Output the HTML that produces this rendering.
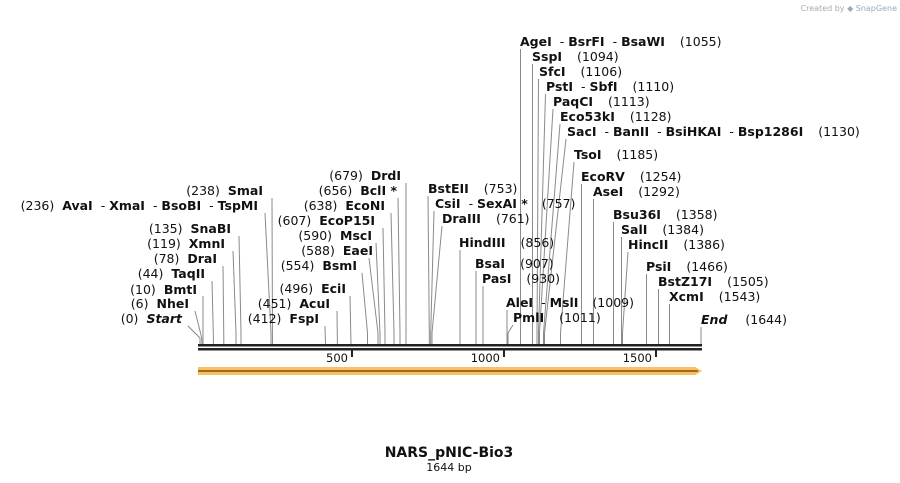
<!DOCTYPE html>
<html><head><meta charset="utf-8"><style>
html,body{margin:0;padding:0;background:#fff;width:900px;height:483px;overflow:hidden}
svg{display:block}
text{font-family:"DejaVu Sans","Liberation Sans",sans-serif;font-size:12.5px;fill:#111}
.b{font-weight:bold}
.l{fill:none;stroke:#8a8a8a;stroke-width:1}
</style></head><body>
<svg width="900" height="483" viewBox="0 0 900 483">
<text x="897" y="11" text-anchor="end" style="font-size:8px;fill:#aaa">Created by <tspan style="fill:#9ab">◆ SnapGene</tspan></text>

<polyline class="l" points="188,326 200,338 200,345"/>
<polyline class="l" points="195,311 201.8,338 201.8,345"/>
<polyline class="l" points="203,296 203,345"/>
<polyline class="l" points="212,281 213.4,338 213.4,345"/>
<polyline class="l" points="223,266 223.8,338 223.8,345"/>
<polyline class="l" points="233,251 236,333 236,345"/>
<polyline class="l" points="239,236 241,333 241,345"/>
<polyline class="l" points="265,213 271,333 271,345"/>
<polyline class="l" points="272,198 272.5,345"/>
<polyline class="l" points="325,326 325.5,345"/>
<polyline class="l" points="337,311 337.4,345"/>
<polyline class="l" points="350,296 351,345"/>
<polyline class="l" points="362,273 367.5,333 367.5,345"/>
<polyline class="l" points="369,258 378,333 378,345"/>
<polyline class="l" points="376,243 380,333 380,345"/>
<polyline class="l" points="383,228 385,333 385,345"/>
<polyline class="l" points="391,213 394,333 394,345"/>
<polyline class="l" points="398,198 400,333 400,345"/>
<polyline class="l" points="406,183 406,345"/>
<polyline class="l" points="428,196 429.4,345"/>
<polyline class="l" points="434,211 430.7,333 430.7,345"/>
<polyline class="l" points="442,226 432,333 432,345"/>
<polyline class="l" points="460,250 460,345"/>
<polyline class="l" points="476,271 476,345"/>
<polyline class="l" points="483,286 483,345"/>
<polyline class="l" points="507,310 507,345"/>
<polyline class="l" points="513,325 508,333 508,345"/>
<polyline class="l" points="520.5,49 520.5,345"/>
<polyline class="l" points="532.5,64 532.5,345"/>
<polyline class="l" points="538.5,79 537,333 537,345"/>
<polyline class="l" points="545.5,94 538.5,333 538.5,345"/>
<polyline class="l" points="553,109 539.5,333 539.5,345"/>
<polyline class="l" points="560,124 543.5,333 543.5,345"/>
<polyline class="l" points="566,139 544.5,333 544.5,345"/>
<polyline class="l" points="574,162 560.5,333 560.5,345"/>
<polyline class="l" points="581.5,184 581.5,345"/>
<polyline class="l" points="593.5,199 593.5,345"/>
<polyline class="l" points="613.5,222 613.5,345"/>
<polyline class="l" points="621.5,237 621.5,345"/>
<polyline class="l" points="628,252 622.5,333 622.5,345"/>
<polyline class="l" points="646.5,274 646.5,345"/>
<polyline class="l" points="658.5,289 658.5,345"/>
<polyline class="l" points="669.5,304 669.5,345"/>
<polyline class="l" points="701,327 701,345"/>

<text x="182" y="323" text-anchor="end">(0)<tspan class="b" dx="8" font-style="italic">Start</tspan></text>
<text x="189" y="308" text-anchor="end">(6)<tspan class="b" dx="8">NheI</tspan></text>
<text x="197" y="294" text-anchor="end">(10)<tspan class="b" dx="8">BmtI</tspan></text>
<text x="205" y="278" text-anchor="end">(44)<tspan class="b" dx="8">TaqII</tspan></text>
<text x="217" y="263" text-anchor="end">(78)<tspan class="b" dx="8">DraI</tspan></text>
<text x="225" y="248" text-anchor="end">(119)<tspan class="b" dx="8">XmnI</tspan></text>
<text x="231" y="233" text-anchor="end">(135)<tspan class="b" dx="8">SnaBI</tspan></text>
<text x="258" y="210" text-anchor="end">(236)<tspan class="b" dx="8">AvaI</tspan><tspan dx="8">- </tspan><tspan class="b">XmaI</tspan><tspan dx="8">- </tspan><tspan class="b">BsoBI</tspan><tspan dx="8">- </tspan><tspan class="b">TspMI</tspan></text>
<text x="263" y="195" text-anchor="end">(238)<tspan class="b" dx="8">SmaI</tspan></text>
<text x="319" y="323" text-anchor="end">(412)<tspan class="b" dx="8">FspI</tspan></text>
<text x="330" y="308" text-anchor="end">(451)<tspan class="b" dx="8">AcuI</tspan></text>
<text x="346" y="293" text-anchor="end">(496)<tspan class="b" dx="8">EciI</tspan></text>
<text x="357" y="270" text-anchor="end">(554)<tspan class="b" dx="8">BsmI</tspan></text>
<text x="373" y="255" text-anchor="end">(588)<tspan class="b" dx="8">EaeI</tspan></text>
<text x="372" y="240" text-anchor="end">(590)<tspan class="b" dx="8">MscI</tspan></text>
<text x="375" y="225" text-anchor="end">(607)<tspan class="b" dx="8">EcoP15I</tspan></text>
<text x="385" y="210" text-anchor="end">(638)<tspan class="b" dx="8">EcoNI</tspan></text>
<text x="397" y="195" text-anchor="end">(656)<tspan class="b" dx="8">BclI *</tspan></text>
<text x="401" y="180" text-anchor="end">(679)<tspan class="b" dx="8">DrdI</tspan></text>

<text x="428" y="193"><tspan class="b">BstEII</tspan><tspan dx="15">(753)</tspan></text>
<text x="435" y="208"><tspan class="b">CsiI</tspan><tspan dx="8">- </tspan><tspan class="b">SexAI *</tspan><tspan dx="14">(757)</tspan></text>
<text x="442" y="223"><tspan class="b">DraIII</tspan><tspan dx="15">(761)</tspan></text>
<text x="459" y="247"><tspan class="b">HindIII</tspan><tspan dx="15">(856)</tspan></text>
<text x="475" y="268"><tspan class="b">BsaI</tspan><tspan dx="15">(907)</tspan></text>
<text x="482" y="283"><tspan class="b">PasI</tspan><tspan dx="15">(930)</tspan></text>
<text x="506" y="307"><tspan class="b">AleI</tspan><tspan dx="8">- </tspan><tspan class="b">MslI</tspan><tspan dx="14">(1009)</tspan></text>
<text x="513" y="322"><tspan class="b">PmlI</tspan><tspan dx="15">(1011)</tspan></text>
<text x="520" y="46"><tspan class="b">AgeI</tspan><tspan dx="8">- </tspan><tspan class="b">BsrFI</tspan><tspan dx="8">- </tspan><tspan class="b">BsaWI</tspan><tspan dx="15">(1055)</tspan></text>
<text x="532" y="61"><tspan class="b">SspI</tspan><tspan dx="15">(1094)</tspan></text>
<text x="539" y="76"><tspan class="b">SfcI</tspan><tspan dx="15">(1106)</tspan></text>
<text x="546" y="91"><tspan class="b">PstI</tspan><tspan dx="8">- </tspan><tspan class="b">SbfI</tspan><tspan dx="15">(1110)</tspan></text>
<text x="553" y="106"><tspan class="b">PaqCI</tspan><tspan dx="15">(1113)</tspan></text>
<text x="560" y="121"><tspan class="b">Eco53kI</tspan><tspan dx="15">(1128)</tspan></text>
<text x="567" y="136"><tspan class="b">SacI</tspan><tspan dx="8">- </tspan><tspan class="b">BanII</tspan><tspan dx="8">- </tspan><tspan class="b">BsiHKAI</tspan><tspan dx="8">- </tspan><tspan class="b">Bsp1286I</tspan><tspan dx="15">(1130)</tspan></text>
<text x="574" y="159"><tspan class="b">TsoI</tspan><tspan dx="15">(1185)</tspan></text>
<text x="581" y="181"><tspan class="b">EcoRV</tspan><tspan dx="15">(1254)</tspan></text>
<text x="593" y="196"><tspan class="b">AseI</tspan><tspan dx="15">(1292)</tspan></text>
<text x="613" y="219"><tspan class="b">Bsu36I</tspan><tspan dx="15">(1358)</tspan></text>
<text x="621" y="234"><tspan class="b">SalI</tspan><tspan dx="15">(1384)</tspan></text>
<text x="628" y="249"><tspan class="b">HincII</tspan><tspan dx="15">(1386)</tspan></text>
<text x="646" y="271"><tspan class="b">PsiI</tspan><tspan dx="15">(1466)</tspan></text>
<text x="658" y="286"><tspan class="b">BstZ17I</tspan><tspan dx="15">(1505)</tspan></text>
<text x="669" y="301"><tspan class="b">XcmI</tspan><tspan dx="15">(1543)</tspan></text>
<text x="701" y="324"><tspan class="b" font-style="italic">End</tspan><tspan dx="18">(1644)</tspan></text>

<rect x="198" y="344" width="504" height="2.5" fill="#222"/>
<rect x="198" y="348" width="504" height="2.5" fill="#222"/>
<rect x="351" y="349" width="2" height="8" fill="#222"/>
<rect x="503" y="349" width="2" height="8" fill="#222"/>
<rect x="655" y="349" width="2" height="8" fill="#222"/>
<text x="348" y="362" text-anchor="end" style="font-size:11.5px">500</text>
<text x="500" y="362" text-anchor="end" style="font-size:11.5px">1000</text>
<text x="652" y="362" text-anchor="end" style="font-size:11.5px">1500</text>

<polygon points="198,367 695,367 702,371 695,375 198,375" fill="#f7c064"/>
<line x1="198" y1="371" x2="698" y2="371" stroke="#8a4a00" stroke-width="1.5"/>

<text x="449" y="457" text-anchor="middle" class="b" style="font-size:14px">NARS_pNIC-Bio3</text>
<text x="449" y="471" text-anchor="middle" style="font-size:11px">1644 bp</text>
</svg>
</body></html>
